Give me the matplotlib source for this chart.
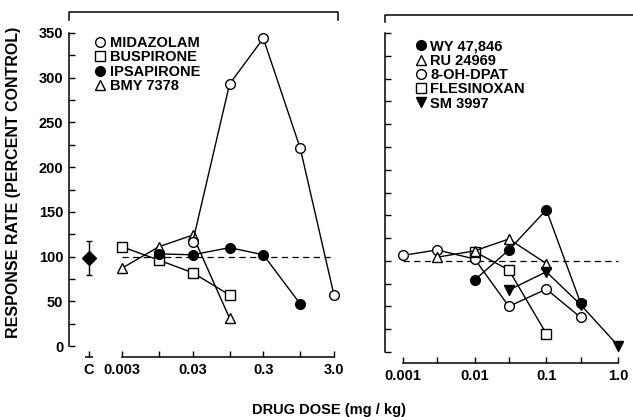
import matplotlib
matplotlib.use("Agg")
import matplotlib.pyplot as plt
from matplotlib.lines import Line2D
from matplotlib.ticker import FixedLocator, NullFormatter
from matplotlib.transforms import offset_copy

plt.rcParams['font.family'] = ['Liberation Sans', 'DejaVu Sans']
plt.rcParams['font.weight'] = 'bold'

# ---- left panel data (mg/kg, % control) ----
midazolam_dose = [0.03, 0.1, 0.3, 1.0, 3.0]
midazolam_rate = [116, 293, 344, 221, 57]
buspirone_dose = [0.003, 0.01, 0.03, 0.1]
buspirone_rate = [111, 96, 82, 57]
ipsapirone_dose = [0.01, 0.03, 0.1, 0.3, 1.0]
ipsapirone_rate = [103, 102, 110, 102, 47]
bmy_dose = [0.003, 0.01, 0.03, 0.1]
bmy_rate = [87, 111, 124, 31]
control_rate = 98
control_err = 19

# ---- right panel data ----
wy_dose = [0.01, 0.03, 0.1, 0.3]
wy_rate = [79, 112, 156, 54]
ru_dose = [0.003, 0.01, 0.03, 0.1]
ru_rate = [104, 111, 124, 97]
dpat_dose = [0.001, 0.003, 0.01, 0.03, 0.1, 0.3]
dpat_rate = [106, 112, 102, 50, 69, 38]
fles_dose = [0.01, 0.03, 0.1]
fles_rate = [110, 90, 20]
sm_dose = [0.03, 0.1, 0.3, 1.0]
sm_rate = [68, 88, 52, 7]

left_ticks = [0.003, 0.03, 0.3, 3.0]
left_ticklabels = ['0.003', '0.03', '0.3', '3.0']
left_minor = [0.01, 0.1, 1.0]
right_ticks = [0.001, 0.01, 0.1, 1.0]
right_ticklabels = ['0.001', '0.01', '0.1', '1.0']
right_minor = [0.003, 0.03, 0.3]

CONTROL_X = 0.00102
W, H = 633, 417
FS = 10.5
OUT_PT = 8  # x-axis offset below the plot, points

fig = plt.figure(figsize=(W / 100, H / 100), dpi=100)
axL = fig.add_axes([69 / W, 71 / H, 269 / W, 313 / H])
axR = fig.add_axes([385 / W, 65 / H, 248 / W, 319 / H])


def style_axis(ax, xlim, bounds, ticks, ticklabels, minor, show_ylabels):
    ax.set_xscale('log')
    ax.set_xlim(*xlim)
    ax.set_ylim(0, 350)
    for s in ('top', 'right'):
        ax.spines[s].set_visible(False)
    ax.spines['bottom'].set_bounds(*bounds)
    ax.spines['bottom'].set_position(('outward', OUT_PT))
    for s in ('left', 'bottom'):
        ax.spines[s].set_linewidth(1.1)
    ax.set_xticks(ticks)
    ax.set_xticklabels(ticklabels)
    ax.xaxis.set_minor_locator(FixedLocator(minor))
    ax.xaxis.set_minor_formatter(NullFormatter())
    ax.set_yticks(range(0, 351, 50))
    ax.yaxis.set_minor_locator(FixedLocator(range(25, 350, 50)))
    ax.tick_params(which='both', direction='in', length=4, width=1)
    ax.tick_params(axis='x', labelsize=FS, pad=4)
    ax.tick_params(axis='y', labelsize=FS, pad=4, labelleft=show_ylabels)
    for lab in ax.get_xticklabels() + ax.get_yticklabels():
        lab.set_fontweight('bold')


style_axis(axL, (0.000534, 3.42), (0.003, 3.0),
           [CONTROL_X] + left_ticks, ['C'] + left_ticklabels, left_minor, True)
style_axis(axR, (0.00056, 1.62), (0.001, 1.0),
           right_ticks, right_ticklabels, right_minor, False)

# base of the "C" tick
trans = offset_copy(axL.get_xaxis_transform(), fig=fig, y=-OUT_PT, units='points')
axL.plot([CONTROL_X], [0], marker='_', ms=6, mew=1.1, color='black',
         transform=trans, clip_on=False)

kw = dict(color='black', lw=1.0, ms=7, mew=1.0, clip_on=False)
openkw = dict(kw, mfc='white')
fillkw = dict(kw, mfc='black')

# reference lines
axL.plot([0.003, 3.0], [100, 100], ls=(0, (5, 3.5)), color='black', lw=0.9, zorder=1)
axR.plot([0.001, 1.0], [100, 100], ls=(0, (5, 3.5)), color='black', lw=0.9, zorder=1)

axL.plot(bmy_dose, bmy_rate, marker='^', **openkw)
axL.plot(buspirone_dose, buspirone_rate, marker='s', **openkw)
axL.plot(midazolam_dose, midazolam_rate, marker='o', **openkw)
axL.plot(ipsapirone_dose, ipsapirone_rate, marker='o', **fillkw)
axL.errorbar([CONTROL_X], [control_rate], yerr=[control_err], fmt='D', color='black',
             ms=7, capsize=2.5, elinewidth=1, capthick=1, clip_on=False)

axR.plot(dpat_dose, dpat_rate, marker='o', **openkw)
axR.plot(fles_dose, fles_rate, marker='s', **openkw)
axR.plot(ru_dose, ru_rate, marker='^', **openkw)
axR.plot(sm_dose, sm_rate, marker='v', **fillkw)
axR.plot(wy_dose, wy_rate, marker='o', **fillkw)

legkw = dict(frameon=False, handlelength=0.8, handletextpad=0.25,
             labelspacing=0.02, borderpad=0, borderaxespad=0, loc='upper left',
             prop={'weight': 'bold', 'size': FS})


def proxy(marker, filled):
    return Line2D([], [], ls='none', marker=marker, ms=7, mew=1.0,
                  mec='black', mfc='black' if filled else 'white')


axL.legend([proxy('o', False), proxy('s', False), proxy('o', True), proxy('^', False)],
           ['MIDAZOLAM', 'BUSPIRONE', 'IPSAPIRONE', 'BMY 7378'],
           bbox_to_anchor=(0.095, 0.99), **legkw)
axR.legend([proxy('o', True), proxy('^', False), proxy('o', False), proxy('s', False),
            proxy('v', True)],
           ['WY 47,846', 'RU 24969', '8-OH-DPAT', 'FLESINOXAN', 'SM 3997'],
           bbox_to_anchor=(0.12, 0.98), **legkw)

# panel frame tops
fig.add_artist(Line2D([69 / W, 69 / W, 338 / W, 338 / W],
                      [1 - 20 / H, 1 - 12 / H, 1 - 12 / H, 1 - 20 / H],
                      color='black', lw=1.1))
fig.add_artist(Line2D([385 / W, 385 / W, 1.0],
                      [1 - 22 / H, 1 - 15 / H, 1 - 15 / H],
                      color='black', lw=1.1))

fig.text(14 / W, 1 - 182 / H, 'RESPONSE RATE (PERCENT CONTROL)', rotation=90,
         ha='center', va='center', fontsize=11.5, fontweight='bold')
fig.text(329 / W, 1 - 410 / H, 'DRUG DOSE (mg / kg)', ha='center', va='center',
         fontsize=FS, fontweight='bold')

fig.savefig('out.png', dpi=100)
